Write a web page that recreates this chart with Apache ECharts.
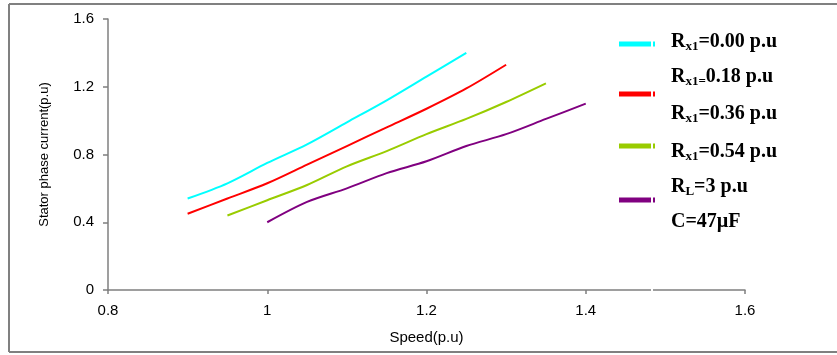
<!DOCTYPE html>
<html>
<head>
<meta charset="utf-8">
<script src="https://cdn.jsdelivr.net/npm/echarts@6/dist/echarts.min.js"></script>
<style>
html,body{margin:0;padding:0;background:#fff;}
#chart{width:837px;height:355px;}
</style>
</head>
<body>
<div id="chart"></div>
<script>
// Data
var speedA = [0.90, 0.95, 1.00, 1.05, 1.10, 1.15, 1.20, 1.25];
var currentA = [0.54, 0.63, 0.75, 0.86, 0.99, 1.12, 1.26, 1.40];           // Rx1 = 0.00
var speedB = [0.90, 0.95, 1.00, 1.05, 1.10, 1.15, 1.20, 1.25, 1.30];
var currentB = [0.45, 0.54, 0.63, 0.74, 0.85, 0.96, 1.07, 1.19, 1.33];     // Rx1 = 0.18
var speedC = [0.95, 1.00, 1.05, 1.10, 1.15, 1.20, 1.25, 1.30, 1.35];
var currentC = [0.44, 0.53, 0.62, 0.73, 0.82, 0.92, 1.01, 1.11, 1.22];     // Rx1 = 0.36
var speedD = [1.00, 1.05, 1.10, 1.15, 1.20, 1.25, 1.30, 1.35, 1.40];
var currentD = [0.40, 0.52, 0.60, 0.69, 0.76, 0.85, 0.92, 1.01, 1.10];     // Rx1 = 0.54
var seriesNames = ['Rx1=0.00 p.u', 'Rx1=0.18 p.u', 'Rx1=0.36 p.u', 'Rx1=0.54 p.u'];
var seriesColors = ['#00FFFF', '#FF0000', '#99CC00', '#800080'];
var xTicks = [0.8, 1.0, 1.2, 1.4, 1.6];
var yTicks = [0, 0.4, 0.8, 1.2, 1.6];

function pairs(xs, ys) { return xs.map(function (x, i) { return [x, ys[i]]; }); }
var allData = [pairs(speedA, currentA), pairs(speedB, currentB), pairs(speedC, currentC), pairs(speedD, currentD)];

var chart = echarts.init(document.getElementById('chart'), null, {renderer: 'canvas'});

var serif = '"Liberation Serif", "Times New Roman", serif';
var rich = {
  m: {fontFamily: serif, fontWeight: 'bold', fontSize: 20, lineHeight: 23, color: '#000'},
  s: {fontFamily: serif, fontWeight: 'bold', fontSize: 13, lineHeight: 13, color: '#000', verticalAlign: 'bottom'}
};
var legendRows = [
  '{m|R}{s|x1}{m|=0.00 p.u}',
  '{m|R}{s|x1=}{m|0.18 p.u}',
  '{m|R}{s|x1}{m|=0.36 p.u}',
  '{m|R}{s|x1}{m|=0.54 p.u}',
  '{m|R}{s|L}{m|=3 p.u}',
  '{m|C=47µF}'
];
var rowY = [42, 77, 114, 152, 187, 222];
var markerY = [44, 94, 146, 200];

var graphics = [];
var frameStyle = {stroke: '#808080', lineWidth: 2};
graphics.push({type: 'line', shape: {x1: 9, y1: 4, x2: 837, y2: 4}, style: frameStyle, silent: true});
graphics.push({type: 'line', shape: {x1: 9, y1: 4, x2: 9, y2: 352}, style: frameStyle, silent: true});
graphics.push({type: 'line', shape: {x1: 9, y1: 352, x2: 837, y2: 352}, style: frameStyle, silent: true});
markerY.forEach(function (y, i) {
  graphics.push({
    type: 'line', shape: {x1: 619, y1: y, x2: 655, y2: y},
    style: {stroke: seriesColors[i], lineWidth: 5}, z: 10
  });
});
legendRows.forEach(function (t, i) {
  graphics.push({
    type: 'text', x: 671, y: rowY[i],
    style: {text: t, rich: rich, verticalAlign: 'middle', align: 'left'}, z: 10
  });
});
graphics.push({
  type: 'rect', shape: {x: 651, y: 20, width: 2, height: 275},
  style: {fill: '#fff'}, z: 20, silent: true
});

var option = {
  backgroundColor: '#fff',
  animation: false,
  grid: {left: 108, top: 19, right: 92, bottom: 65},
  xAxis: {
    type: 'value', min: 0.8, max: 1.6, interval: 0.2,
    name: 'Speed(p.u)', nameLocation: 'middle', nameGap: 40,
    nameTextStyle: {fontFamily: '"Liberation Sans", Arial, sans-serif', fontSize: 15, color: '#000'},
    axisLine: {show: true, lineStyle: {color: '#7f7f7f', width: 1.5}},
    axisTick: {show: true, length: 4, lineStyle: {color: '#7f7f7f', width: 1.5}},
    axisLabel: {margin: 13, fontFamily: '"Liberation Sans", Arial, sans-serif', fontSize: 15, color: '#000',
      customValues: xTicks},
    splitLine: {show: false}
  },
  yAxis: {
    type: 'value', min: 0, max: 1.6, interval: 0.4,
    name: 'Stator phase current(p.u)', nameLocation: 'middle', nameGap: 57, nameRotate: 90,
    nameTextStyle: {fontFamily: '"Liberation Sans", Arial, sans-serif', fontSize: 13, color: '#000'},
    axisLine: {show: true, lineStyle: {color: '#7f7f7f', width: 1.5}},
    axisTick: {show: true, length: 5, lineStyle: {color: '#7f7f7f', width: 1.5}},
    axisLabel: {margin: 14, fontFamily: '"Liberation Sans", Arial, sans-serif', fontSize: 15, color: '#000',
      customValues: yTicks},
    splitLine: {show: false}
  },
  series: allData.map(function (d, i) {
    return {
      name: seriesNames[i], type: 'line', data: d, smooth: 0.3,
      symbol: 'none', lineStyle: {color: seriesColors[i], width: 2},
      itemStyle: {color: seriesColors[i]}
    };
  }),
  graphic: graphics
};
chart.setOption(option);
</script>
</body>
</html>
